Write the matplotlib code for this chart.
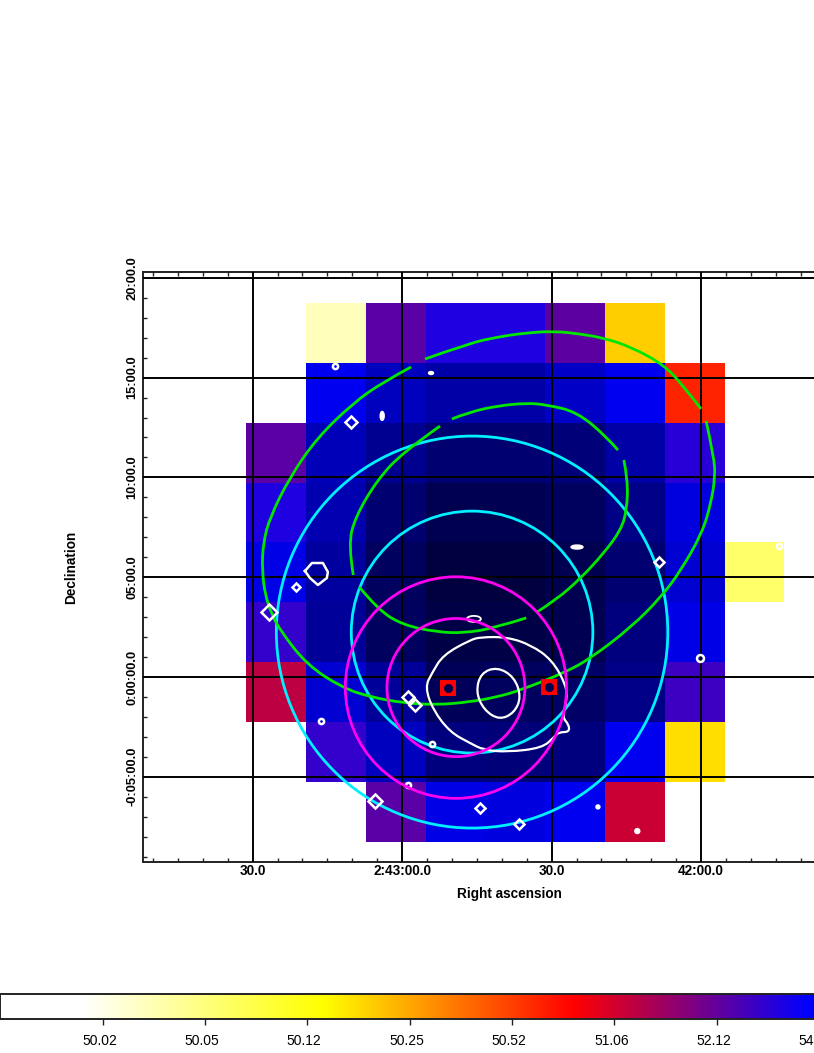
import numpy as np
import matplotlib
matplotlib.use('Agg')
import matplotlib.pyplot as plt
from matplotlib.colors import FuncNorm, LinearSegmentedColormap
from matplotlib.patches import Ellipse, PathPatch
from matplotlib.path import Path
from matplotlib.transforms import ScaledTranslation

plt.rcParams['font.family'] = ['Liberation Sans', 'DejaVu Sans']

# RA is seconds of time after 2:42:00, Dec is arcmin
n = np.nan
ra_edges = [91.3, 79.3, 67.3, 55.3, 43.3, 31.3, 19.3, 7.3, -4.7, -16.7]
dec_edges = [18.74, 15.74, 12.74, 9.74, 6.74, 3.74, 0.74, -2.26, -5.26, -8.26]
flux = [
    [n, 50.03, 52.27, 53.27, 53.27, 52.20, 50.19, n, n],
    [n, 54.33, 55.70, 56.53, 56.53, 55.45, 54.33, 50.63, n],
    [52.23, 55.96, 57.49, 59.00, 59.00, 58.60, 56.53, 53.07, n],
    [53.27, 56.24, 59.00, 60.80, 60.80, 59.86, 57.84, 54.74, n],
    [54.53, 56.84, 59.86, 61.84, 61.84, 60.80, 59.00, 55.19, 50.06],
    [52.88, 57.16, 59.86, 61.32, 61.32, 60.80, 58.21, 54.53, n],
    [51.21, 55.19, 57.16, 60.32, 59.86, 59.41, 57.84, 52.71, n],
    [n, 52.88, 55.70, 58.21, 58.60, 58.21, 54.33, 50.17, n],
    [n, n, 52.27, 54.53, 54.74, 54.33, 51.11, n, n],
]

ra_major = [90, 60, 30, 0]
ra_labels = ['30.0', '2:43:00.0', '30.0', '42:00.0']
dec_major = [20, 15, 10, 5, 0, -5]
dec_labels = ['20:00.0', '15:00.0', '10:00.0', '05:00.0', '0:00:00.0', '-0:05:00.0']

cbar_values = [50.0184, 50.0517, 50.1184, 50.252, 50.519, 51.053, 52.12, 54.255]
cbar_labels = ['50.02', '50.05', '50.12', '50.25', '50.52', '51.06', '52.12', '54.25']

# circles: ra, dec, radius (arcmin)
cyan_circles = [(45.96, 2.25, 9.82), (45.96, 2.25, 6.06)]
magenta_circles = [(49.2, -0.53, 5.55), (49.2, -0.53, 3.46)]

outer_a_ra = [55.4, 46.4, 40.9, 35.5, 29.5, 24.1, 19.5, 14.0, 7.4, 3.4, 0.0]
outer_a_dec = [15.93, 16.73, 17.03, 17.23, 17.33, 17.18, 16.98, 16.53, 15.63, 14.53, 13.43]
outer_b_ra = [-1.0, -2.6, -2.8, -2.0, -0.2, 4.0, 8.0, 14.0, 22.1, 27.1, 36.1, 40.9, 46.4, 53.0, 59.8,
              66.4, 71.9, 79.1, 84.5, 86.1, 87.5, 88.1, 87.9, 86.5, 82.5, 77.1, 69.8, 63.8, 58.2]
outer_b_dec = [12.83, 11.02, 10.02, 8.72, 7.21, 5.36, 4.01, 2.50, 0.95, 0.25, -0.65, -1.00, -1.25, -1.40, -1.30,
               -1.00, -0.55, 0.60, 2.35, 3.11, 4.11, 5.36, 6.71, 8.02, 10.02, 11.97, 13.73, 14.78, 15.53]

inner_a_ra = [50.0, 46.4, 40.9, 34.9, 30.9, 24.9, 18.9, 16.7]
inner_a_dec = [12.93, 13.28, 13.58, 13.73, 13.63, 13.28, 12.02, 11.37]
inner_b_ra = [15.5, 14.7, 14.9, 16.1, 19.5, 24.1, 29.1, 32.9]
inner_b_dec = [10.87, 9.87, 8.37, 7.36, 6.21, 4.96, 3.86, 3.26]
inner_c_ra = [35.1, 41.5, 47.6, 53.0, 59.8, 64.8, 68.6]
inner_c_dec = [2.96, 2.45, 2.20, 2.25, 2.60, 3.36, 4.51]
inner_d_ra = [69.8, 70.8, 69.4, 65.0, 59.8, 52.4]
inner_d_dec = [5.11, 6.61, 8.02, 9.87, 11.27, 12.57]

# closed contours, last point repeats the first
contour_ra = [46.4, 51.8, 54.0, 55.4, 53.8, 50.4, 46.4, 43.6, 38.9, 31.9, 29.5, 28.5, 26.5, 26.5, 27.9,
              26.9, 27.1, 29.9, 34.1, 38.9, 44.2, 46.4]
contour_dec = [1.85, 1.10, 0.20, -0.50, -1.65, -2.76, -3.31, -3.66, -3.76, -3.56, -3.01, -2.76, -2.76, -2.40, -2.00,
               -1.15, -0.40, 0.85, 1.60, 2.00, 2.00, 1.85]
core_ra = [40.9, 44.2, 45.2, 43.6, 40.5, 37.5, 36.1, 37.5, 40.9]
core_dec = [0.50, 0.20, -0.75, -1.65, -2.15, -1.80, -1.00, 0.0, 0.50]
lobe_ra = [79.5, 78.1, 75.9, 74.9, 75.1, 76.9, 78.5, 79.5]
lobe_dec = [5.31, 5.71, 5.71, 5.26, 4.96, 4.61, 4.96, 5.31]

blob_ra = [86.7, 81.3, 70.2, 73.5, 8.4, -15.7, 0.2, 58.8, 57.4, 76.3, 54.0, 58.8, 65.4, 44.4, 36.5]
blob_dec = [3.26, 4.51, 12.78, 15.58, 5.76, 6.56, 0.95, -1.0, -1.4, -2.2, -3.36, -5.41, -6.21, -6.56, -7.36]
blob_size = [8, 4.5, 6, 3, 5, 3, 4, 6, 6, 3, 3, 3, 7, 5, 5]

# small flat contours: ra, dec, width (s), height (arcmin)
spots = [(54.2, 15.23, 1.0, 0.15), (24.9, 6.51, 2.4, 0.2), (64.0, 13.08, 0.8, 0.45),
         (20.7, -6.51, 0.8, 0.2), (12.8, -7.72, 1.0, 0.25)]

source_ra = [50.7, 30.5]
source_dec = [-0.55, -0.48]

cmap = LinearSegmentedColormap.from_list(
    'ds9', [(0, 'white'), (0.08, 'white'), (0.315, 'yellow'), (0.56, 'red'), (0.79, 'blue'), (1, 'black')], N=1024)
cmap.set_bad('white')


def forward(v):
    return np.log2((np.asarray(v) - 50 + 0.015) / 0.01668) / 10


def inverse(p):
    return 50 + 0.01668 * 2 ** (10 * np.asarray(p)) - 0.015


def curve(ax, x, y, color, lw, zorder, closed=False):
    # quadratic path: the read points act as control points
    pts = np.column_stack([x, y])
    if closed:
        ctrl = np.vstack([pts[:-1], pts[:2]])
        verts = [(ctrl[0] + ctrl[1]) / 2]
        codes = [Path.MOVETO]
        for i in range(1, len(ctrl) - 1):
            verts += [ctrl[i], (ctrl[i] + ctrl[i + 1]) / 2]
            codes += [Path.CURVE3, Path.CURVE3]
    else:
        verts = [pts[0]]
        codes = [Path.MOVETO]
        for i in range(1, len(pts) - 1):
            end = pts[i + 1] if i == len(pts) - 2 else (pts[i] + pts[i + 1]) / 2
            verts += [pts[i], end]
            codes += [Path.CURVE3, Path.CURVE3]
    ax.add_patch(PathPatch(Path(verts, codes), fill=False, ec=color, lw=lw, zorder=zorder))


norm = FuncNorm((forward, inverse), vmin=50.00168, vmax=67.065)

W, H = 814, 1053
fig = plt.figure(figsize=(W / 100, H / 100), dpi=100)
ax = fig.add_axes([143 / W, 1 - 862 / H, 732 / W, 590 / H])

mesh = ax.pcolormesh(ra_edges, dec_edges, np.array(flux), cmap=cmap, norm=norm, zorder=1)

ax.set_xlim(112, -34.9)
ax.set_ylim(-9.27, 20.29)

ax.set_xticks(ra_major, ra_labels, fontweight='bold', fontsize=9.8)
ax.set_yticks(dec_major, dec_labels, fontweight='bold', fontsize=9.3, rotation=90, va='center')
ax.set_xticks(np.arange(-30, 111, 5), minor=True)
ax.set_yticks(np.arange(-9, 21, 1), minor=True)
ax.tick_params(which='major', length=0, pad=1.5)
ax.tick_params(axis='y', which='major', pad=3.5)
ax.tick_params(which='minor', direction='in', length=3, width=1, top=True, color='#222222')
ax.grid(True, which='major', color='black', lw=1.4, zorder=2)
ax.set_axisbelow(False)

ax.set_xlabel('Right ascension', fontweight='bold', fontsize=9.8)
ax.set_ylabel('Declination', fontweight='bold', fontsize=9.8)
ax.xaxis.set_label_coords(0.5, -30 / 590 * 0.83)
ax.yaxis.set_label_coords(-65 / 732, 0.5)

for s in ax.spines.values():
    s.set_linewidth(1.4)
    s.set_color('#222222')

for ra, dec, r in cyan_circles:
    ax.add_patch(Ellipse((ra, dec), 8 * r, 2 * r, fill=False, ec='#00F0FF', lw=2, zorder=3))

for a, b in [(outer_a_ra, outer_a_dec), (outer_b_ra, outer_b_dec), (inner_a_ra, inner_a_dec),
             (inner_b_ra, inner_b_dec), (inner_c_ra, inner_c_dec), (inner_d_ra, inner_d_dec)]:
    curve(ax, a, b, '#00E800', 2, 4)

curve(ax, contour_ra, contour_dec, 'white', 1.6, 5, closed=True)
curve(ax, core_ra, core_dec, 'white', 1.6, 5, closed=True)
ax.plot(lobe_ra, lobe_dec, color='white', lw=1.8, zorder=5)

for ra, dec, size in zip(blob_ra, blob_dec, blob_size):
    if size >= 4.5:
        ax.plot(ra, dec, 'D', mfc='none', mec='white', mew=1.8, ms=size, zorder=5)
    else:
        ax.plot(ra, dec, 'o', mfc='none', mec='white', mew=1.8, ms=size * 1.25, zorder=5)
ax.add_patch(Ellipse((45.6, 2.91), 2.8, 0.3, fill=False, ec='white', lw=1.3, zorder=5))
for ra, dec, w, h in spots:
    ax.add_patch(Ellipse((ra, dec), w, h, color='white', zorder=5))

for ra, dec, r in magenta_circles:
    ax.add_patch(Ellipse((ra, dec), 8 * r, 2 * r, fill=False, ec='#FF00F0', lw=2, zorder=6))

ax.plot(source_ra, source_dec, 's', color='#FF0000', ms=12, mew=0, zorder=7)
ax.plot(source_ra, source_dec, 'o', mfc='#000050', mec='#000050', mew=0.5, ms=6, zorder=8)

cax = fig.add_axes([0, 1 - 1019 / H, 1024 / W, 25 / H])
cb = fig.colorbar(mesh, cax=cax, orientation='horizontal')
cb.set_ticks(cbar_values, labels=cbar_labels)
cb.minorticks_off()
cax.tick_params(length=4, width=1, pad=7, labelsize=10, color='#222222')
shift = ScaledTranslation(-3 / 100, 0, fig.dpi_scale_trans)
for t in cax.get_xticklabels():
    t.set_transform(t.get_transform() + shift)
cb.outline.set_linewidth(1.4)
cb.outline.set_edgecolor('#222222')

fig.savefig('out.png', dpi=100)
